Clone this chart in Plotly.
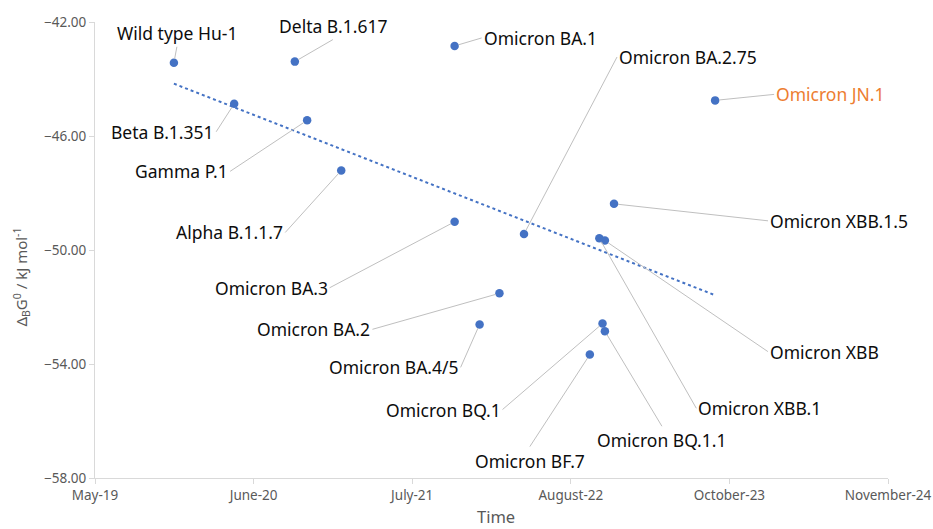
import numpy as np
import pandas as pd
import plotly.graph_objects as go

# ---- data ----
variants = ["Wild type Hu-1", "Beta B.1.351", "Delta B.1.617", "Gamma P.1", "Alpha B.1.1.7",
            "Omicron BA.1", "Omicron BA.3", "Omicron BA.4/5", "Omicron BA.2", "Omicron BA.2.75",
            "Omicron BF.7", "Omicron XBB.1", "Omicron BQ.1", "Omicron XBB", "Omicron BQ.1.1",
            "Omicron XBB.1.5", "Omicron JN.1"]
dates = ["2019-12-01", "2020-05-01", "2020-10-01", "2020-11-01", "2021-01-26",
         "2021-11-08", "2021-11-08", "2022-01-10", "2022-03-01", "2022-05-02",
         "2022-10-15", "2022-11-08", "2022-11-16", "2022-11-22", "2022-11-22",
         "2022-12-15", "2023-08-27"]
dG = [-43.43, -44.87, -43.39, -45.45, -47.21,
      -42.84, -49.01, -52.61, -51.52, -49.44,
      -53.67, -49.59, -52.58, -49.67, -52.85,
      -48.38, -44.75]

y_ticks = [-42, -46, -50, -54, -58]
x_start = "2019-05-16"
x_step_days = 400
x_n_steps = 5

# ---- label placement (pixel offsets of the label anchor from its point) ----
label_layout = {
    "Wild type Hu-1": (3, -16, "center", "bottom"),
    "Delta B.1.617": (38, -22, "center", "bottom"),
    "Omicron BA.1": (27, -8, "left", "middle"),
    "Omicron BA.2.75": (93, -177, "left", "middle"),
    "Omicron JN.1": (59, -6, "left", "middle"),
    "Beta B.1.351": (-18, 28, "right", "middle"),
    "Gamma P.1": (-77, 51, "right", "middle"),
    "Alpha B.1.1.7": (-56, 62, "right", "middle"),
    "Omicron BA.3": (-125, 66, "right", "middle"),
    "Omicron BA.2": (-127, 36, "right", "middle"),
    "Omicron BA.4/5": (-19, 43, "right", "middle"),
    "Omicron BQ.1": (-100, 86, "right", "middle"),
    "Omicron BF.7": (-60, 92, "center", "top"),
    "Omicron BQ.1.1": (57, 95, "center", "top"),
    "Omicron XBB.1": (97, 170, "left", "middle"),
    "Omicron XBB": (163, 111, "left", "middle"),
    "Omicron XBB.1.5": (154, 17, "left", "middle"),
}

FONT = "Noto Sans"
BLUE = "#4472C4"
GRAY_TXT = "#595959"
AXIS = "#D9D9D9"
LABEL_SIZE = 17.5
TICK_SIZE = 13.5

x = pd.to_datetime(dates)
t0 = pd.Timestamp(x_start)
x_end = t0 + pd.Timedelta(days=x_step_days * x_n_steps)

# linear trendline from data
xd = (x - t0).days.values.astype(float)
slope, intercept = np.polyfit(xd, np.array(dG), 1)
tx = np.array([xd.min(), xd.max()])
ty = slope * tx + intercept
tx_dates = [t0 + pd.Timedelta(days=float(d)) for d in tx]

fig = go.Figure()
fig.add_trace(go.Scatter(x=tx_dates, y=ty, mode="lines",
                         line=dict(color=BLUE, width=2, dash="dot"),
                         hoverinfo="skip", showlegend=False))
fig.add_trace(go.Scatter(x=x, y=dG, mode="markers", text=variants,
                         marker=dict(color=BLUE, size=8.5),
                         showlegend=False))

annotations = []
for name, xi, yi in zip(variants, x, dG):
    ax, ay, xa, ya = label_layout[name]
    color = "#ED7D31" if name == "Omicron JN.1" else "#0D0D0D"
    annotations.append(dict(
        x=xi, y=yi, xref="x", yref="y", text=name,
        showarrow=True, arrowhead=0, arrowwidth=1, arrowcolor="#BFBFBF",
        ax=ax, ay=ay, xanchor=xa, yanchor=ya, standoff=4,
        font=dict(family=FONT, size=LABEL_SIZE, color=color),
        borderpad=1,
    ))

# axis titles
annotations.append(dict(text="Time", xref="paper", yref="paper", x=0.506, y=-0.084,
                        xanchor="center", yanchor="middle", showarrow=False,
                        font=dict(family=FONT, size=16.5, color=GRAY_TXT)))
annotations.append(dict(text="Δ<sub>B</sub>G<sup>0</sup> / kJ mol<sup>-1</sup>",
                        xref="paper", yref="paper", x=-0.093, y=0.44, textangle=-90,
                        xanchor="center", yanchor="middle", showarrow=False,
                        font=dict(family=FONT, size=15, color=GRAY_TXT)))

fig.update_layout(
    width=933, height=529,
    margin=dict(l=95, r=45, t=22, b=51),
    plot_bgcolor="white", paper_bgcolor="white",
    font=dict(family=FONT, color=GRAY_TXT),
    annotations=annotations,
    xaxis=dict(
        type="date", range=[t0, x_end], tick0=t0, dtick=x_step_days * 86400000,
        tickformat="%B-%y", showgrid=False, zeroline=False, automargin=False,
        showline=True, linecolor=AXIS, linewidth=1,
        ticks="outside", ticklen=5, tickcolor=AXIS,
        tickfont=dict(family=FONT, size=TICK_SIZE, color=GRAY_TXT),
    ),
    yaxis=dict(
        range=[-58, -42], tickvals=y_ticks, tickformat=".2f",
        showgrid=False, zeroline=False, automargin=False,
        showline=True, linecolor=AXIS, linewidth=1,
        ticks="outside", ticklen=5, tickcolor=AXIS,
        tickfont=dict(family=FONT, size=TICK_SIZE, color=GRAY_TXT),
    ),
)

fig.write_html("out.html", config={"displayModeBar": False},
               post_script="document.body.style.margin='0';document.body.style.overflow='hidden';")
